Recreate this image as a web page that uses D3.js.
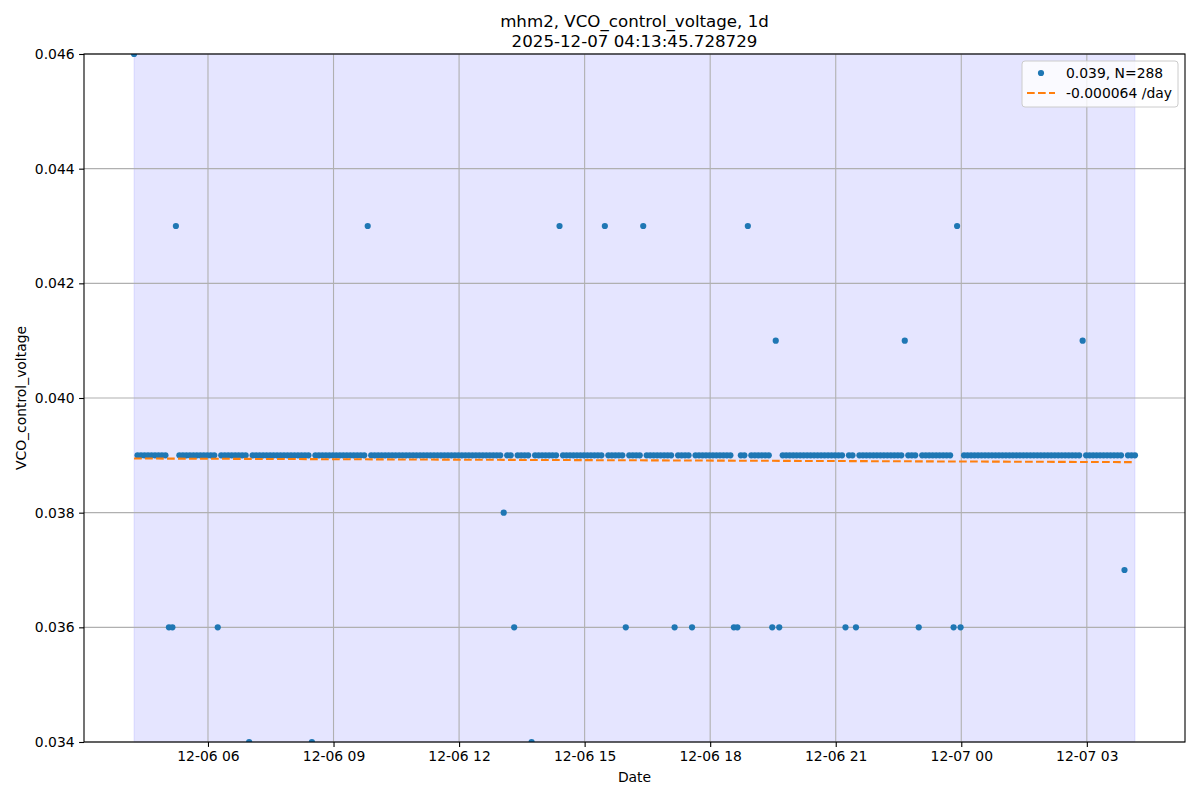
<!DOCTYPE html>
<html>
<head>
<meta charset="utf-8">
<script src="https://cdn.jsdelivr.net/npm/d3@7"></script>
<style>
  html, body { margin: 0; padding: 0; background: #fff; }
  svg { display: block; font-family: "DejaVu Sans", sans-serif; }
</style>
</head>
<body>
<svg id="chart" width="1200" height="800"></svg>
<script>
// ---------------- data ----------------
const titleLines = ["mhm2, VCO_control_voltage, 1d", "2025-12-07 04:13:45.728729"];
const xLabel = "Date";
const yLabel = "VCO_control_voltage";
const legendLabels = ["0.039, N=288", "-0.000064 /day"];
const trendSlopePerDay = -0.000064;

// sample timestamps (one every 5 minutes)
const times = [
  "12-06 04:14","12-06 04:19","12-06 04:24","12-06 04:29","12-06 04:34","12-06 04:39","12-06 04:44","12-06 04:49","12-06 04:54","12-06 04:59",
  "12-06 05:04","12-06 05:09","12-06 05:14","12-06 05:19","12-06 05:24","12-06 05:29","12-06 05:34","12-06 05:39","12-06 05:44","12-06 05:49","12-06 05:54","12-06 05:59",
  "12-06 06:04","12-06 06:09","12-06 06:14","12-06 06:19","12-06 06:24","12-06 06:29","12-06 06:34","12-06 06:39","12-06 06:44","12-06 06:49","12-06 06:54","12-06 06:59",
  "12-06 07:04","12-06 07:09","12-06 07:14","12-06 07:19","12-06 07:24","12-06 07:29","12-06 07:34","12-06 07:39","12-06 07:44","12-06 07:49","12-06 07:54","12-06 07:59",
  "12-06 08:04","12-06 08:09","12-06 08:14","12-06 08:19","12-06 08:24","12-06 08:29","12-06 08:34","12-06 08:39","12-06 08:44","12-06 08:49","12-06 08:54","12-06 08:59",
  "12-06 09:04","12-06 09:09","12-06 09:14","12-06 09:19","12-06 09:24","12-06 09:29","12-06 09:34","12-06 09:39","12-06 09:44","12-06 09:49","12-06 09:54","12-06 09:59",
  "12-06 10:04","12-06 10:09","12-06 10:14","12-06 10:19","12-06 10:24","12-06 10:29","12-06 10:34","12-06 10:39","12-06 10:44","12-06 10:49","12-06 10:54","12-06 10:59",
  "12-06 11:04","12-06 11:09","12-06 11:14","12-06 11:19","12-06 11:24","12-06 11:29","12-06 11:34","12-06 11:39","12-06 11:44","12-06 11:49","12-06 11:54","12-06 11:59",
  "12-06 12:04","12-06 12:09","12-06 12:14","12-06 12:19","12-06 12:24","12-06 12:29","12-06 12:34","12-06 12:39","12-06 12:44","12-06 12:49","12-06 12:54","12-06 12:59",
  "12-06 13:04","12-06 13:09","12-06 13:14","12-06 13:19","12-06 13:24","12-06 13:29","12-06 13:34","12-06 13:39","12-06 13:44","12-06 13:49","12-06 13:54","12-06 13:59",
  "12-06 14:04","12-06 14:09","12-06 14:14","12-06 14:19","12-06 14:24","12-06 14:29","12-06 14:34","12-06 14:39","12-06 14:44","12-06 14:49","12-06 14:54","12-06 14:59",
  "12-06 15:04","12-06 15:09","12-06 15:14","12-06 15:19","12-06 15:24","12-06 15:29","12-06 15:34","12-06 15:39","12-06 15:44","12-06 15:49","12-06 15:54","12-06 15:59",
  "12-06 16:04","12-06 16:09","12-06 16:14","12-06 16:19","12-06 16:24","12-06 16:29","12-06 16:34","12-06 16:39","12-06 16:44","12-06 16:49","12-06 16:54","12-06 16:59",
  "12-06 17:04","12-06 17:09","12-06 17:14","12-06 17:19","12-06 17:24","12-06 17:29","12-06 17:34","12-06 17:39","12-06 17:44","12-06 17:49","12-06 17:54","12-06 17:59",
  "12-06 18:04","12-06 18:09","12-06 18:14","12-06 18:19","12-06 18:24","12-06 18:29","12-06 18:34","12-06 18:39","12-06 18:44","12-06 18:49","12-06 18:54","12-06 18:59",
  "12-06 19:04","12-06 19:09","12-06 19:14","12-06 19:19","12-06 19:24","12-06 19:29","12-06 19:34","12-06 19:39","12-06 19:44","12-06 19:49","12-06 19:54","12-06 19:59",
  "12-06 20:04","12-06 20:09","12-06 20:14","12-06 20:19","12-06 20:24","12-06 20:29","12-06 20:34","12-06 20:39","12-06 20:44","12-06 20:49","12-06 20:54","12-06 20:59",
  "12-06 21:04","12-06 21:09","12-06 21:14","12-06 21:19","12-06 21:24","12-06 21:29","12-06 21:34","12-06 21:39","12-06 21:44","12-06 21:49","12-06 21:54","12-06 21:59",
  "12-06 22:04","12-06 22:09","12-06 22:14","12-06 22:19","12-06 22:24","12-06 22:29","12-06 22:34","12-06 22:39","12-06 22:44","12-06 22:49","12-06 22:54","12-06 22:59",
  "12-06 23:04","12-06 23:09","12-06 23:14","12-06 23:19","12-06 23:24","12-06 23:29","12-06 23:34","12-06 23:39","12-06 23:44","12-06 23:49","12-06 23:54","12-06 23:59",
  "12-07 00:04","12-07 00:09","12-07 00:14","12-07 00:19","12-07 00:24","12-07 00:29","12-07 00:34","12-07 00:39","12-07 00:44","12-07 00:49","12-07 00:54","12-07 00:59",
  "12-07 01:04","12-07 01:09","12-07 01:14","12-07 01:19","12-07 01:24","12-07 01:29","12-07 01:34","12-07 01:39","12-07 01:44","12-07 01:49","12-07 01:54","12-07 01:59",
  "12-07 02:04","12-07 02:09","12-07 02:14","12-07 02:19","12-07 02:24","12-07 02:29","12-07 02:34","12-07 02:39","12-07 02:44","12-07 02:49","12-07 02:54","12-07 02:59",
  "12-07 03:04","12-07 03:09","12-07 03:14","12-07 03:19","12-07 03:24","12-07 03:29","12-07 03:34","12-07 03:39","12-07 03:44","12-07 03:49","12-07 03:54","12-07 03:59",
  "12-07 04:04","12-07 04:09"
];

// VCO_control_voltage readings (24 per row = 2 hours)
const values = [
  0.046,0.039,0.039,0.039,0.039,0.039,0.039,0.039,0.039,0.039,0.036,0.036,0.043,0.039,0.039,0.039,0.039,0.039,0.039,0.039,0.039,0.039,0.039,0.039,
  0.036,0.039,0.039,0.039,0.039,0.039,0.039,0.039,0.039,0.034,0.039,0.039,0.039,0.039,0.039,0.039,0.039,0.039,0.039,0.039,0.039,0.039,0.039,0.039,
  0.039,0.039,0.039,0.034,0.039,0.039,0.039,0.039,0.039,0.039,0.039,0.039,0.039,0.039,0.039,0.039,0.039,0.039,0.039,0.043,0.039,0.039,0.039,0.039,
  0.039,0.039,0.039,0.039,0.039,0.039,0.039,0.039,0.039,0.039,0.039,0.039,0.039,0.039,0.039,0.039,0.039,0.039,0.039,0.039,0.039,0.039,0.039,0.039,
  0.039,0.039,0.039,0.039,0.039,0.039,0.039,0.039,0.039,0.039,0.038,0.039,0.039,0.036,0.039,0.039,0.039,0.039,0.034,0.039,0.039,0.039,0.039,0.039,
  0.039,0.039,0.043,0.039,0.039,0.039,0.039,0.039,0.039,0.039,0.039,0.039,0.039,0.039,0.039,0.043,0.039,0.039,0.039,0.039,0.039,0.036,0.039,0.039,
  0.039,0.039,0.043,0.039,0.039,0.039,0.039,0.039,0.039,0.039,0.039,0.036,0.039,0.039,0.039,0.039,0.036,0.039,0.039,0.039,0.039,0.039,0.039,0.039,
  0.039,0.039,0.039,0.039,0.036,0.036,0.039,0.039,0.043,0.039,0.039,0.039,0.039,0.039,0.039,0.036,0.041,0.036,0.039,0.039,0.039,0.039,0.039,0.039,
  0.039,0.039,0.039,0.039,0.039,0.039,0.039,0.039,0.039,0.039,0.039,0.039,0.036,0.039,0.039,0.036,0.039,0.039,0.039,0.039,0.039,0.039,0.039,0.039,
  0.039,0.039,0.039,0.039,0.039,0.041,0.039,0.039,0.039,0.036,0.039,0.039,0.039,0.039,0.039,0.039,0.039,0.039,0.039,0.036,0.043,0.036,0.039,0.039,
  0.039,0.039,0.039,0.039,0.039,0.039,0.039,0.039,0.039,0.039,0.039,0.039,0.039,0.039,0.039,0.039,0.039,0.039,0.039,0.039,0.039,0.039,0.039,0.039,
  0.039,0.039,0.039,0.039,0.039,0.039,0.039,0.039,0.041,0.039,0.039,0.039,0.039,0.039,0.039,0.039,0.039,0.039,0.039,0.039,0.037,0.039,0.039,0.039
];

const xTickLabels = ["12-06 06","12-06 09","12-06 12","12-06 15","12-06 18","12-06 21","12-07 00","12-07 03"];
const yTicks = [0.034,0.036,0.038,0.040,0.042,0.044,0.046];
const yDomain = [0.034, 0.046];

// ---------------- drawing ----------------
const parseTime = d3.timeParse("%Y-%m-%d %H:%M");
const parseTick = d3.timeParse("%Y-%m-%d %H");
const data = times.map((t, i) => ({ t: parseTime("2025-" + t), v: values[i] }));
const xTickDates = xTickLabels.map(s => parseTick("2025-" + s));

const margin = { left: 84, top: 54, right: 15, bottom: 58 };
const W = 1200, H = 800;
const iw = W - margin.left - margin.right;   // 1101
const ih = H - margin.top - margin.bottom;   // 688

const t0 = data[0].t, t1 = data[data.length - 1].t;
const span = t1 - t0;
const x = d3.scaleTime()
  .domain([new Date(+t0 - 0.05 * span), new Date(+t1 + 0.05 * span)])
  .range([0, iw]);
const y = d3.scaleLinear().domain(yDomain).range([ih, 0]);

const svg = d3.select("#chart");
svg.append("rect").attr("width", W).attr("height", H).attr("fill", "#fff");

svg.append("defs").append("clipPath").attr("id", "clip")
  .append("rect").attr("width", iw).attr("height", ih);

const g = svg.append("g").attr("transform", `translate(${margin.left},${margin.top})`);

// shaded span
g.append("rect")
  .attr("x", x(t0)).attr("y", 0)
  .attr("width", x(t1) - x(t0)).attr("height", ih)
  .attr("fill", "rgba(0,0,255,0.1)")
  .attr("stroke", "rgba(0,0,255,0.1)").attr("stroke-width", 1);

// grid
const grid = g.append("g");
grid.selectAll("line.gx").data(xTickDates).join("line")
  .attr("x1", d => x(d)).attr("x2", d => x(d))
  .attr("y1", 0).attr("y2", ih)
  .attr("stroke", "#b0b0b0").attr("stroke-width", 1.1);
grid.selectAll("line.gy").data(yTicks).join("line")
  .attr("x1", 0).attr("x2", iw)
  .attr("y1", d => y(d)).attr("y2", d => y(d))
  .attr("stroke", "#b0b0b0").attr("stroke-width", 1.1);

// points
const plot = g.append("g").attr("clip-path", "url(#clip)");
plot.selectAll("circle").data(data).join("circle")
  .attr("cx", d => x(d.t)).attr("cy", d => y(d.v))
  .attr("r", 3.1)
  .attr("fill", "#1f77b4");

// trend line (slope given per day, anchored at mean)
const meanV = d3.mean(values);
const meanT = d3.mean(data, d => +d.t);
const dayMs = 86400000;
const trendAt = t => meanV + trendSlopePerDay * ((+t - meanT) / dayMs);
plot.append("line")
  .attr("x1", x(t0)).attr("y1", y(trendAt(t0)))
  .attr("x2", x(t1)).attr("y2", y(trendAt(t1)))
  .attr("stroke", "#ff7f0e").attr("stroke-width", 2.08)
  .attr("stroke-dasharray", "7.7,3.3");

// axes
const xAxis = d3.axisBottom(x).tickValues(xTickDates)
  .tickFormat(d3.timeFormat("%m-%d %H")).tickSizeOuter(0).tickSize(4.9).tickPadding(4.5);
const yAxis = d3.axisLeft(y).tickValues(yTicks)
  .tickFormat(d3.format(".3f")).tickSizeOuter(0).tickSize(4.9).tickPadding(4.5);

const gx = g.append("g").attr("transform", `translate(0,${ih})`).call(xAxis);
const gy = g.append("g").call(yAxis);
[gx, gy].forEach(a => {
  a.select(".domain").remove();
  a.selectAll("line").attr("stroke", "#000").attr("stroke-width", 1.1);
  a.selectAll("text").attr("fill", "#000").style("font-size", "13.9px")
    .style("font-family", "'DejaVu Sans', sans-serif");
});

// frame
g.append("rect").attr("width", iw).attr("height", ih)
  .attr("fill", "none").attr("stroke", "#000").attr("stroke-width", 1.1);

// titles
const cx = margin.left + iw / 2;
svg.append("text").attr("x", cx).attr("y", 27).attr("text-anchor", "middle")
  .style("font-size", "16.67px").text(titleLines[0]);
svg.append("text").attr("x", cx).attr("y", 47).attr("text-anchor", "middle")
  .style("font-size", "16.67px").text(titleLines[1]);
svg.append("text").attr("x", cx).attr("y", 782).attr("text-anchor", "middle")
  .style("font-size", "13.9px").text(xLabel);
svg.append("text").attr("transform", `translate(26,${margin.top + ih / 2}) rotate(-90)`)
  .attr("text-anchor", "middle").style("font-size", "13.9px").text(yLabel);

// legend
const lg = svg.append("g").attr("transform", "translate(1022,61)");
lg.append("rect").attr("width", 156).attr("height", 46).attr("rx", 3)
  .attr("fill", "rgba(255,255,255,0.8)").attr("stroke", "#cccccc").attr("stroke-width", 1);
lg.append("circle").attr("cx", 19).attr("cy", 12).attr("r", 3.1).attr("fill", "#1f77b4");
lg.append("line").attr("x1", 5).attr("x2", 33).attr("y1", 32).attr("y2", 32)
  .attr("stroke", "#ff7f0e").attr("stroke-width", 2.08).attr("stroke-dasharray", "7.7,3.3");
lg.append("text").attr("x", 44).attr("y", 17).style("font-size", "13.9px").text(legendLabels[0]);
lg.append("text").attr("x", 44).attr("y", 37).style("font-size", "13.9px").text(legendLabels[1]);
</script>
</body>
</html>
